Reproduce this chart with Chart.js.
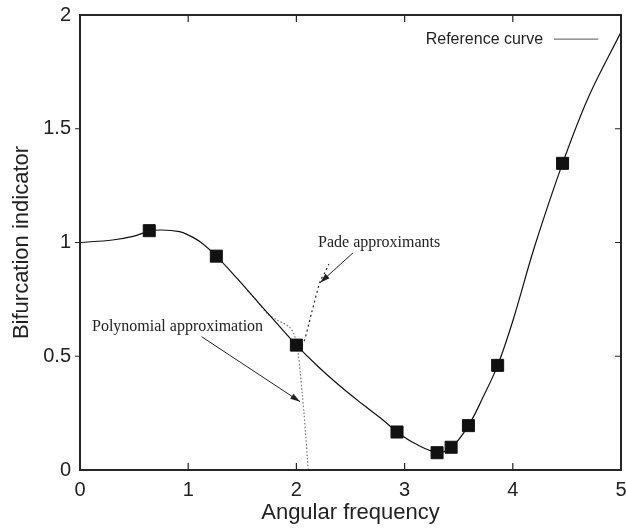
<!DOCTYPE html>
<html>
<head>
<meta charset="utf-8">
<script src="https://cdn.jsdelivr.net/npm/chart.js@4.4.1/dist/chart.umd.min.js"></script>
<style>
  html, body { margin: 0; padding: 0; background: #fff; }
</style>
</head>
<body>
<canvas id="chart" width="626" height="529"></canvas>
<script>
// reference curve
const refFreq  = [0, 0.3, 0.5, 0.64, 0.75, 0.92, 1.0, 1.11, 1.26, 1.45, 1.65, 1.85, 2.0, 2.2, 2.4, 2.6, 2.8, 2.93, 3.1, 3.3, 3.43, 3.59, 3.72, 3.86, 4.0, 4.2, 4.46, 4.7, 5.0];
const refValue = [1.0, 1.011, 1.028, 1.05, 1.055, 1.048, 1.033, 1.003, 0.94, 0.843, 0.735, 0.628, 0.549, 0.455, 0.37, 0.293, 0.22, 0.167, 0.115, 0.078, 0.098, 0.195, 0.315, 0.46, 0.655, 0.98, 1.348, 1.64, 1.925];

// polynomial approximation (breaks down near 2)
const polyFreq  = [1.55, 1.65, 1.73, 1.82, 1.9, 1.945, 1.975, 1.995, 2.015, 2.035, 2.055, 2.07, 2.085, 2.1, 2.115];
const polyValue = [0.787, 0.735, 0.688, 0.66, 0.64, 0.624, 0.6, 0.57, 0.52, 0.43, 0.33, 0.25, 0.16, 0.06, -0.04];

// pade approximants
const padeFreq  = [2.02, 2.07, 2.14, 2.22, 2.26, 2.3];
const padeValue = [0.53, 0.565, 0.69, 0.83, 0.865, 0.905];

// computed points (squares)
const pointFreq  = [0.64, 1.26, 2.0, 2.93, 3.3, 3.43, 3.59, 3.86, 4.46];
const pointValue = [1.052, 0.94, 0.549, 0.167, 0.076, 0.1, 0.195, 0.46, 1.348];

const xTicks = [0, 1, 2, 3, 4, 5];
const yTicks = [0, 0.5, 1, 1.5, 2];

function pairs(xs, ys) {
  return xs.map((v, i) => ({ x: v, y: ys[i] }));
}

function arrow(ctx, x0, y0, x1, y1) {
  const ang = Math.atan2(y1 - y0, x1 - x0);
  ctx.beginPath();
  ctx.moveTo(x0, y0);
  ctx.lineTo(x1, y1);
  ctx.stroke();
  ctx.beginPath();
  ctx.moveTo(x1, y1);
  ctx.lineTo(x1 - 10 * Math.cos(ang) + 3 * Math.sin(ang), y1 - 10 * Math.sin(ang) - 3 * Math.cos(ang));
  ctx.lineTo(x1 - 10 * Math.cos(ang) - 3 * Math.sin(ang), y1 - 10 * Math.sin(ang) + 3 * Math.cos(ang));
  ctx.closePath();
  ctx.fill();
}

// frame, mirrored ticks, key and labels
const decorations = {
  id: 'decorations',
  afterDatasetsDraw(chart) {
    const { ctx, chartArea: a, scales: { x, y } } = chart;
    ctx.save();
    ctx.strokeStyle = '#262626';
    ctx.lineWidth = 2;
    ctx.strokeRect(a.left, a.top, a.right - a.left, a.bottom - a.top);

    ctx.lineWidth = 1.2;
    ctx.beginPath();
    xTicks.slice(1, -1).forEach(v => {
      const px = x.getPixelForValue(v);
      ctx.moveTo(px, a.bottom); ctx.lineTo(px, a.bottom - 7);
      ctx.moveTo(px, a.top); ctx.lineTo(px, a.top + 7);
    });
    yTicks.slice(1, -1).forEach(v => {
      const py = y.getPixelForValue(v);
      ctx.moveTo(a.left - 5, py); ctx.lineTo(a.left, py);
      ctx.moveTo(a.right, py); ctx.lineTo(a.right - 6, py);
    });
    ctx.stroke();

    // key
    ctx.fillStyle = '#222';
    ctx.font = '16px "Liberation Sans", Arial, sans-serif';
    ctx.textAlign = 'right';
    ctx.textBaseline = 'middle';
    const ky = y.getPixelForValue(1.894);
    ctx.fillText('Reference curve', x.getPixelForValue(4.28), ky);
    ctx.strokeStyle = '#555';
    ctx.lineWidth = 1;
    ctx.beginPath();
    ctx.moveTo(x.getPixelForValue(4.38), ky);
    ctx.lineTo(x.getPixelForValue(4.79), ky);
    ctx.stroke();

    // annotations
    ctx.font = '16px "Liberation Serif", "Times New Roman", serif';
    ctx.textAlign = 'left';
    ctx.fillStyle = '#222';
    ctx.fillText('Pade approximants', x.getPixelForValue(2.2), y.getPixelForValue(1.0));
    ctx.fillText('Polynomial approximation', x.getPixelForValue(0.111), y.getPixelForValue(0.63));

    ctx.strokeStyle = '#222';
    ctx.fillStyle = '#222';
    ctx.lineWidth = 1;
    arrow(ctx, x.getPixelForValue(2.524), y.getPixelForValue(0.955), x.getPixelForValue(2.219), y.getPixelForValue(0.823));
    arrow(ctx, x.getPixelForValue(1.124), y.getPixelForValue(0.586), x.getPixelForValue(2.035), y.getPixelForValue(0.3));
    ctx.restore();
  }
};

const chart = new Chart(document.getElementById('chart'), {
  type: 'line',
  data: {
    datasets: [
      {
        label: 'Computed',
        type: 'scatter',
        data: pairs(pointFreq, pointValue),
        showLine: false,
        pointStyle: 'rect',
        pointRadius: 8.5,
        pointBackgroundColor: '#111',
        pointBorderColor: '#111',
        pointBorderWidth: 1,
        order: 0
      },
      {
        label: 'Reference curve',
        data: pairs(refFreq, refValue),
        borderColor: '#111',
        borderWidth: 1.2,
        pointRadius: 0,
        tension: 0.35,
        order: 1
      },
      {
        label: 'Pade approximants',
        data: pairs(padeFreq, padeValue),
        borderColor: '#222',
        borderWidth: 1.2,
        borderDash: [2, 3],
        pointRadius: 0,
        tension: 0.3,
        order: 2
      },
      {
        label: 'Polynomial approximation',
        data: pairs(polyFreq, polyValue),
        borderColor: '#777',
        borderWidth: 1.2,
        borderDash: [1.5, 2],
        pointRadius: 0,
        tension: 0.3,
        order: 3
      }
    ]
  },
  options: {
    responsive: false,
    animation: false,
    layout: { autoPadding: false, padding: { left: 0, right: 5, top: 15, bottom: 0 } },
    plugins: {
      legend: { display: false },
      tooltip: { enabled: false }
    },
    scales: {
      x: {
        type: 'linear',
        min: 0,
        max: 5,
        afterFit: (s) => {
          s.height = 59;
          s.paddingLeft = 0;
          s.paddingRight = 0;
        },
        grid: { display: false, drawTicks: false },
        border: { display: false },
        ticks: {
          stepSize: 1,
          padding: 8,
          color: '#222',
          font: { family: '"Liberation Sans", Arial, sans-serif', size: 20 },
          callback: (v) => String(v)
        },
        title: {
          display: true,
          text: 'Angular frequency',
          color: '#222',
          padding: { top: 0, bottom: 3 },
          font: { family: '"Liberation Sans", Arial, sans-serif', size: 22 }
        }
      },
      y: {
        min: 0,
        max: 2,
        afterFit: (s) => {
          s.width = 80;
          s.paddingTop = 0;
          s.paddingBottom = 0;
        },
        grid: { display: false, drawTicks: false },
        border: { display: false },
        ticks: {
          stepSize: 0.5,
          padding: 9,
          color: '#222',
          font: { family: '"Liberation Sans", Arial, sans-serif', size: 20 },
          callback: (v) => String(v)
        },
        title: {
          display: true,
          text: 'Bifurcation indicator',
          color: '#222',
          padding: { top: 9, bottom: 0 },
          font: { family: '"Liberation Sans", Arial, sans-serif', size: 22 }
        }
      }
    }
  },
  plugins: [decorations]
});
</script>
</body>
</html>
